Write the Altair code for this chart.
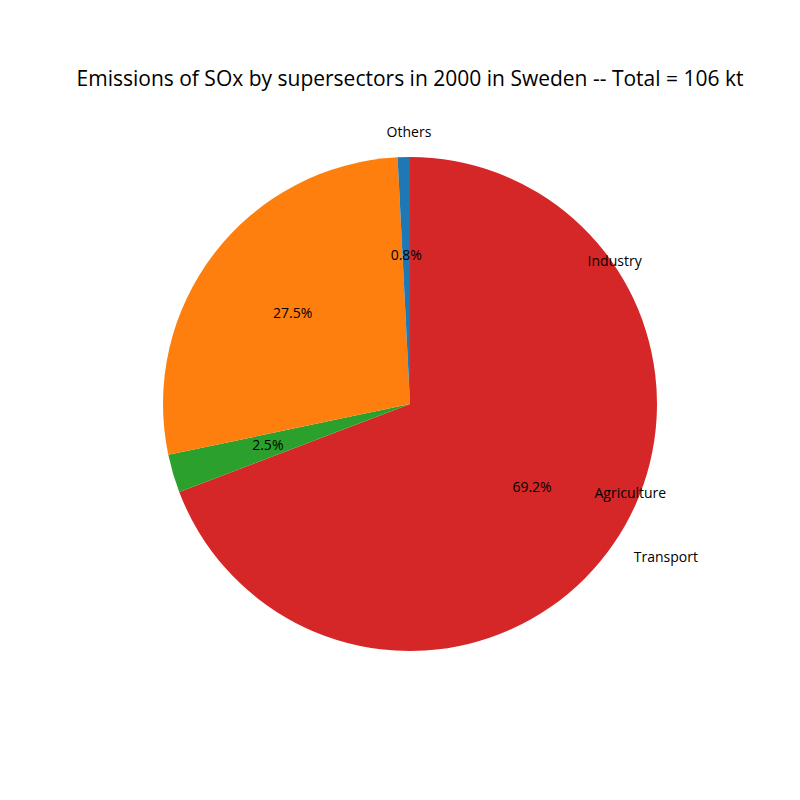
import altair as alt
import pandas as pd

SECTORS = ["Transport", "Others", "Industry", "Agriculture"]
SHARES = [69.2, 2.5, 27.5, 0.8]
COLORS = ["#d62728", "#2ca02c", "#ff7f0e", "#1f77b4"]
TITLE = "Emissions of SOx by supersectors in 2000 in Sweden -- Total = 106 kt"

FONT = "Open Sans"
CX, CY, R = 402, 396, 247

df = pd.DataFrame({"sector": SECTORS, "share": SHARES, "order": list(range(len(SECTORS)))})

base = alt.Chart(df).transform_calculate(
    pct="format(datum.share, '.1f') + '%'"
).encode(
    theta=alt.Theta("share:Q", stack=True),
    order=alt.Order("order:Q"),
)

pie = base.mark_arc(radius=R, x=CX, y=CY).encode(
    color=alt.Color("sector:N", scale=alt.Scale(domain=SECTORS, range=COLORS), legend=None)
)

pct = base.mark_text(radius=R * 0.6, x=CX, y=CY, font=FONT, fontSize=14, color="black").encode(
    text="pct:N"
)

right_lbl = base.mark_text(
    radius=R * 1.1, x=CX, y=CY, font=FONT, fontSize=14, align="left", baseline="middle"
).encode(text="sector:N").transform_filter(alt.datum.sector == "Transport")

left_lbl = base.mark_text(
    radius=R * 1.1, x=CX, y=CY, font=FONT, fontSize=14, align="right", baseline="middle"
).encode(text="sector:N").transform_filter(alt.datum.sector != "Transport")

title = alt.Chart(pd.DataFrame({"t": [TITLE]})).mark_text(
    font=FONT, fontSize=21, color="black"
).encode(x=alt.value(CX), y=alt.value(72), text="t:N")

chart = (
    alt.layer(pie, pct, right_lbl, left_lbl, title)
    .properties(width=784, height=784, padding=0, autosize=alt.AutoSizeParams(type="none"))
    .configure(background="white")
    .configure_view(strokeWidth=0)
)

chart.save("out.html", embed_options={"renderer": "svg", "actions": False})
